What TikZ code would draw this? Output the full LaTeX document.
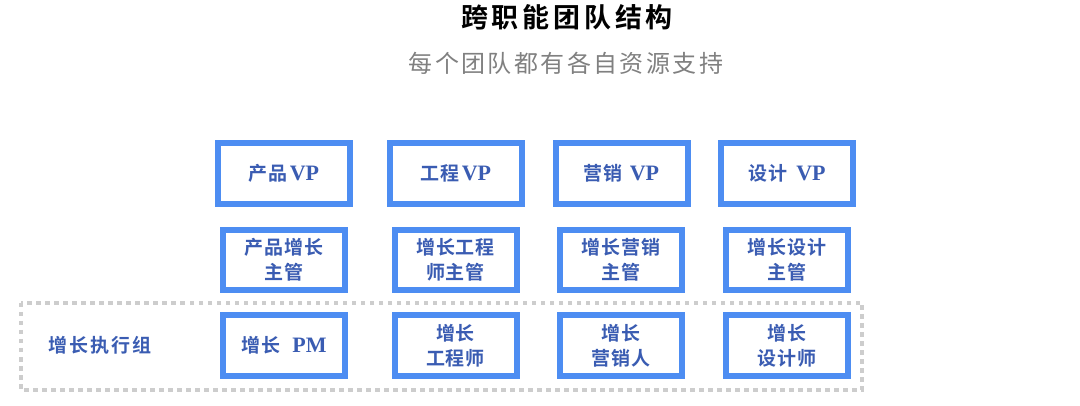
\documentclass[tikz,border=0pt]{standalone}
\usepackage{fontspec}
\newfontfamily\cjk{Noto Sans CJK SC}[BoldFont={Noto Sans CJK SC Bold}]
\newfontfamily\latb{Liberation Serif}
\definecolor{boxblue}{RGB}{77,141,242}
\definecolor{txtblue}{RGB}{58,92,178}
\definecolor{subgray}{RGB}{128,128,128}
\definecolor{dotgray}{RGB}{205,205,205}
\newcommand{\vp}[1]{{\fontsize{22}{25}\latb\bfseries #1}}
\begin{document}
\begin{tikzpicture}[x=1pt,y=-1pt,
  bx/.style={draw=boxblue,line width=6pt,fill=white,inner sep=0pt,align=center,
     text=txtblue,font=\fontsize{19}{25}\cjk\bfseries\addfontfeature{LetterSpace=5}},
  vpbox/.style={bx,minimum width=132pt,minimum height=61pt},
  subbox/.style={bx,minimum width=122pt,minimum height=60pt},
  grp/.style={draw=dotgray,line width=4.5pt,dash pattern=on 4.5pt off 4.5pt},
  ttl/.style={font=\fontsize{27}{30}\cjk\bfseries\addfontfeature{LetterSpace=14},text=black},
  sub/.style={font=\fontsize{24}{28}\cjk\addfontfeature{LetterSpace=10},text=subgray}]
\useasboundingbox (0,0) rectangle (1080,406);
\node[ttl] (title) at (567,17) {跨职能团队结构};
\node[sub] (subtitle) at (566,63) {每个团队都有各自资源支持};
\draw[grp] (21,303) rectangle (862,390);
\node[text=txtblue,font=\fontsize{19}{25}\cjk\bfseries\addfontfeature{LetterSpace=10}] (lbl) at (100,345) {增长执行组};
% row 1
\node[vpbox] (v1) at (284,173.5) {产品\kern2pt\vp{VP}};
\node[vpbox] (v2) at (456,173.5) {工程\kern2pt\vp{VP}};
\node[vpbox] (v3) at (621.5,173.5) {营销\kern7pt\vp{VP}};
\node[vpbox] (v4) at (787,173.5) {设计\kern9pt\vp{VP}};
% row 2
\node[subbox] (m1) at (284,260) {产品增长\\主管};
\node[subbox] (m2) at (455.5,260) {增长工程\\师主管};
\node[subbox] (m3) at (621,260) {增长营销\\主管};
\node[subbox] (m4) at (787,260) {增长设计\\主管};
% row 3
\node[subbox,minimum height=61pt] (e1) at (284,345.5) {增长\kern12pt\vp{PM}};
\node[subbox,minimum height=61pt] (e2) at (455.5,345.5) {增长\\工程师};
\node[subbox,minimum height=61pt] (e3) at (621,345.5) {增长\\营销人};
\node[subbox,minimum height=61pt] (e4) at (787,345.5) {增长\\设计师};
\end{tikzpicture}
\end{document}
